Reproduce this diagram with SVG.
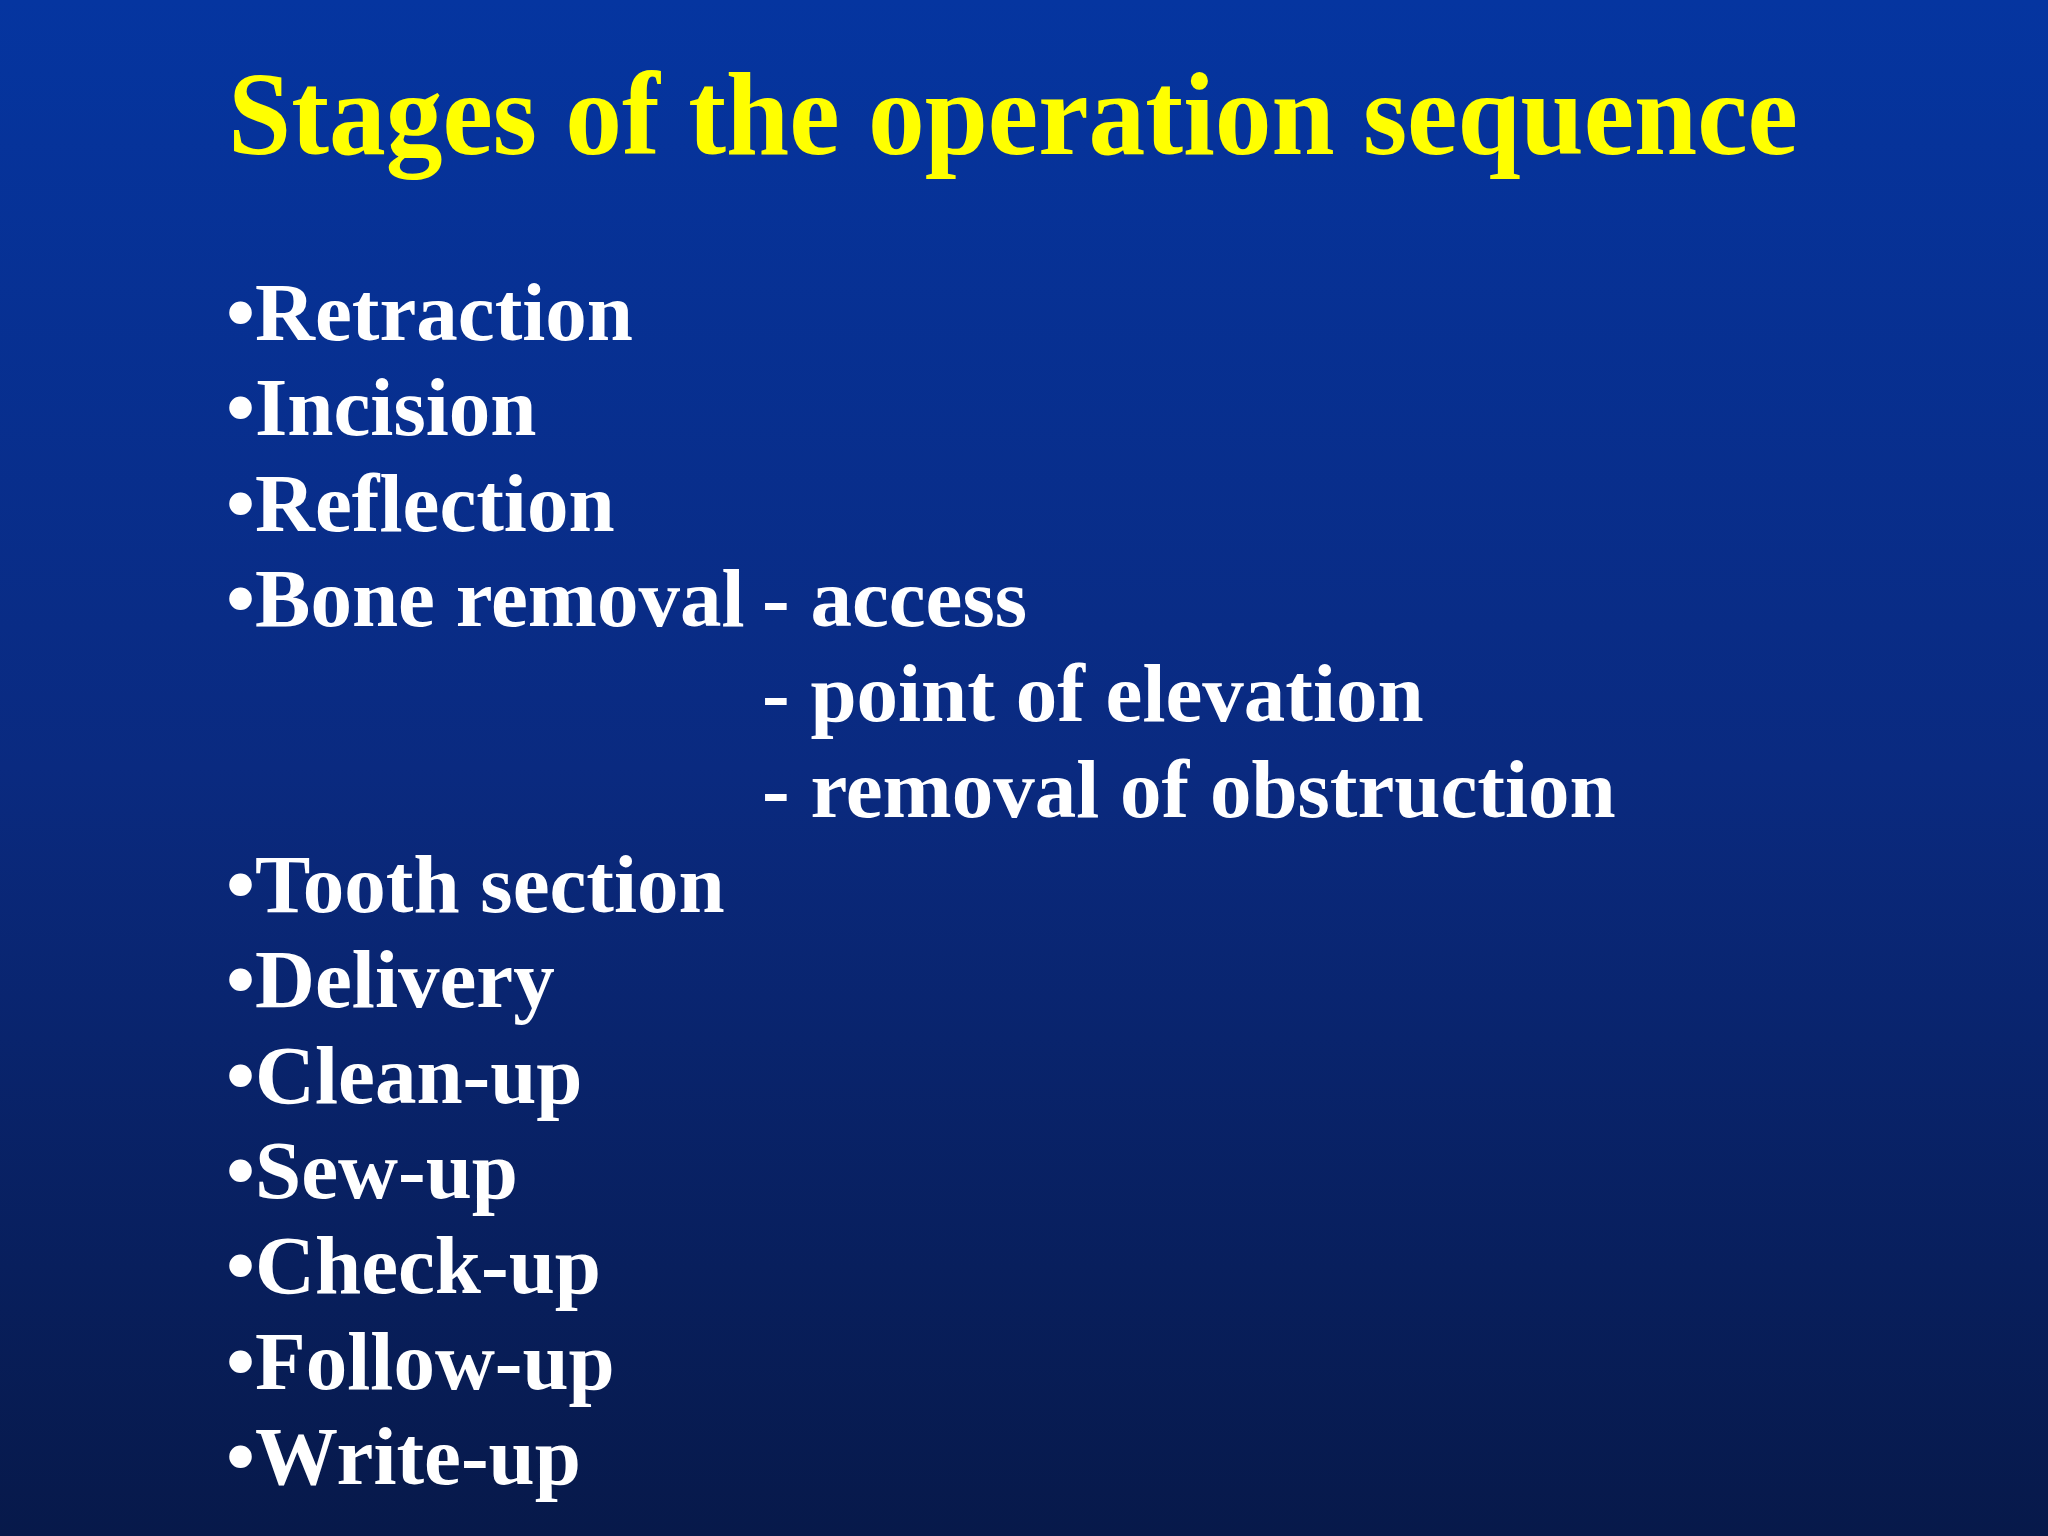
<svg xmlns="http://www.w3.org/2000/svg" width="2048" height="1536" viewBox="0 0 2048 1536">
<defs>
<linearGradient id="bg" x1="0" y1="0" x2="0" y2="1">
<stop offset="0" stop-color="#0535a0"/>
<stop offset="0.5" stop-color="#0a2a80"/>
<stop offset="1" stop-color="#07194a"/>
</linearGradient>
<style>
.t{font-family:"Liberation Serif","Times New Roman",serif;font-weight:bold;fill:#ffffff;font-size:83px}
.h{font-family:"Liberation Serif","Times New Roman",serif;font-weight:bold;fill:#ffff00;font-size:118px}
</style>
</defs>
<rect width="2048" height="1536" fill="url(#bg)"/>
<text class="h" x="228" y="154" textLength="1570" lengthAdjust="spacingAndGlyphs">Stages of the operation sequence</text>
<g id="list">
<text class="t" x="226" y="340">•Retraction</text>
<text class="t" x="226" y="435">•Incision</text>
<text class="t" x="226" y="531">•Reflection</text>
<text class="t" x="226" y="626">•Bone removal</text>
<text class="t" x="762" y="626">- access</text>
<text class="t" x="762" y="721">- point of elevation</text>
<text class="t" x="762" y="817">- removal of obstruction</text>
<text class="t" x="226" y="912">•Tooth section</text>
<text class="t" x="226" y="1007">•Delivery</text>
<text class="t" x="226" y="1103">•Clean-up</text>
<text class="t" x="226" y="1198">•Sew-up</text>
<text class="t" x="226" y="1293">•Check-up</text>
<text class="t" x="226" y="1389">•Follow-up</text>
<text class="t" x="226" y="1484">•Write-up</text>
</g>
</svg>
